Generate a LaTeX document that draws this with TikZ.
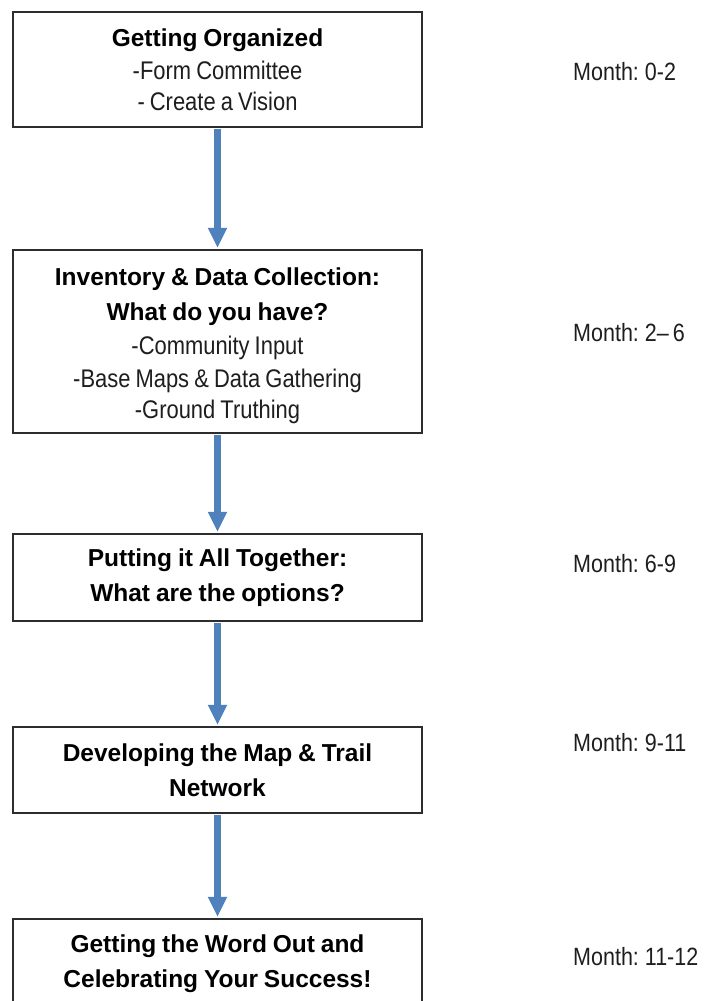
\documentclass[tikz,border=0pt]{standalone}
\usepackage{fontspec}
\setmainfont{Liberation Sans}
\newfontfamily\narrowfont[FakeStretch=0.86]{Liberation Sans}
\usetikzlibrary{arrows.meta}
\definecolor{arrowblue}{RGB}{79,129,189}
\definecolor{boxline}{RGB}{45,45,45}
\definecolor{txt}{RGB}{30,30,30}
\newcommand\ttl[1]{{\bfseries\fontsize{24.5}{33.5}\selectfont\spaceskip=0.24em\relax #1}}
\newcommand\sub[1]{{\narrowfont\color{txt}\fontsize{25.5}{33.5}\selectfont\spaceskip=0.2em\relax #1}}
\newcommand\monthfont{\narrowfont\fontsize{25}{30}\selectfont\spaceskip=0.16em\relax}
\tikzset{
  stage/.style={draw=boxline, line width=1.4pt, fill=white, minimum width=409pt,
    inner sep=0pt, align=center, text=black, font=\fontsize{25}{33.5}\selectfont},
  flow/.style={draw=arrowblue, line width=7pt,
    -{Triangle[width=18pt,length=20pt,fill=arrowblue]}, shorten <=1pt, shorten >=1.5pt},
  month/.style={anchor=base west, inner sep=0pt, text=txt, font=\monthfont}
}
\begin{document}
\begin{tikzpicture}[x=1pt,y=-1pt]
\useasboundingbox (0,0) rectangle (711,1001);
\clip (0,0) rectangle (711,1001);
\node[stage, minimum height=115pt] (b1) at (217.5,69.5)
  {\ttl{Getting Organized}\\ \sub{-Form Committee}\\[-3pt] \sub{- Create a Vision}};
\node[stage, minimum height=183pt] (b2) at (217.5,341.5)
  {\rule{0pt}{27pt}\ttl{Inventory \& Data Collection:}\\[1.5pt] \ttl{What do you have?}\\ \sub{-Community Input}\\ \sub{-Base Maps \& Data Gathering}\\[-2.5pt] \sub{-Ground Truthing}};
\node[stage, minimum height=87pt] (b3) at (217.5,577.5)
  {\ttl{Putting it All Together:}\\[1pt] \ttl{What are the options?}};
\node[stage, minimum height=86pt] (b4) at (217.5,770)
  {\ttl{Developing the Map \& Trail}\\[1.5pt] \ttl{Network}};
\node[stage, minimum height=89pt] (b5) at (217.5,963.5)
  {\ttl{Getting the Word Out and}\\[2pt] \ttl{Celebrating Your Success!}};
\draw[flow] (b1.south) -- (b2.north);
\draw[flow] (b2.south) -- (b3.north);
\draw[flow] (b3.south) -- (b4.north);
\draw[flow] (b4.south) -- (b5.north);
\node[month] (m1) at (573,80) {Month: 0-2};
\node[month] (m2) at (573,341.5) {Month: 2– 6};
\node[month] (m3) at (573,572) {Month: 6-9};
\node[month] (m4) at (573,751) {Month: 9-11};
\node[month] (m5) at (573,965) {Month: 11-12};
\end{tikzpicture}
\end{document}
